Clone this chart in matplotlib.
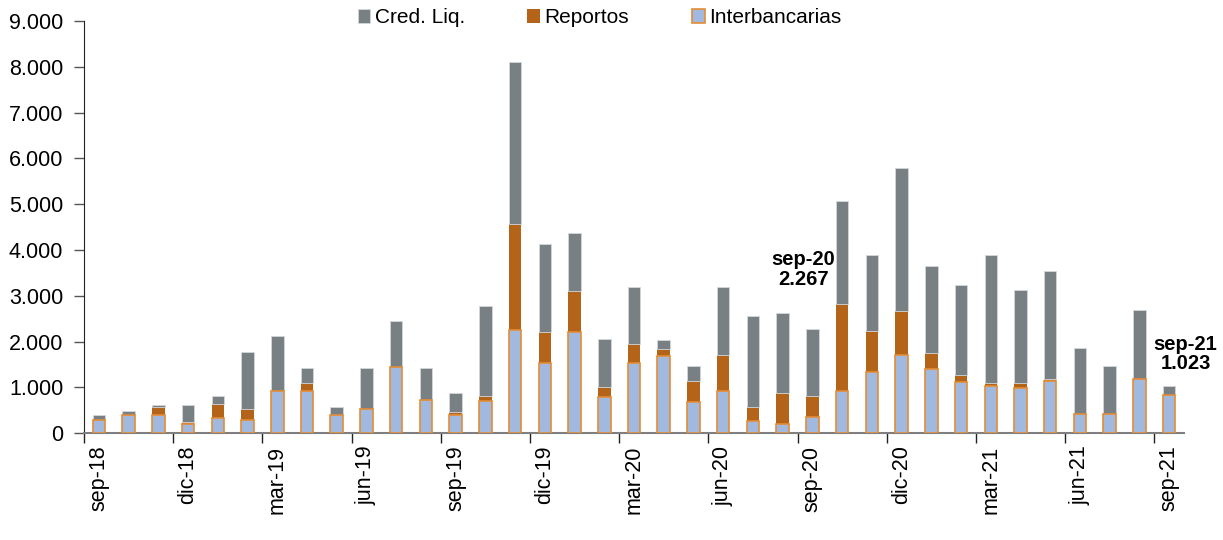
import numpy as np
import matplotlib
matplotlib.use("Agg")
import matplotlib.pyplot as plt
from matplotlib.ticker import FuncFormatter, FixedLocator

plt.rcParams['font.family'] = ['Liberation Sans', 'DejaVu Sans']

# months sep-18 .. sep-21
meses = ['sep', 'oct', 'nov', 'dic', 'ene', 'feb', 'mar', 'abr', 'may', 'jun', 'jul', 'ago']
fechas = []
anio = 18
for i in range(37):
    m = meses[i % 12]
    if m == 'ene' and i > 0:
        anio += 1
    fechas.append(f"{m}-{anio}")

interbancarias = [280, 385, 385, 200, 320, 280, 930, 915, 400, 525, 1450, 730, 395, 705,
                  2255, 1535, 2200, 785, 1535, 1690, 670, 915, 260, 195, 360, 925, 1330,
                  1710, 1410, 1120, 1020, 995, 1140, 415, 415, 1180, 830]
reportos = [0, 0, 195, 50, 320, 250, 0, 185, 0, 0, 0, 0, 65, 110, 2310, 675, 910, 225,
            410, 145, 460, 785, 320, 685, 460, 1900, 895, 960, 335, 140, 65, 90, 45,
            0, 0, 0, 0]
cred_liq = [120, 105, 40, 370, 175, 1240, 1200, 320, 175, 905, 995, 700, 420, 1965, 3535,
            1930, 1250, 1040, 1255, 195, 325, 1480, 1980, 1740, 1447, 2240, 1655, 3130,
            1895, 1965, 2795, 2030, 2345, 1440, 1040, 1510, 193]

c_gris = '#788084'
c_naranja = '#B36418'
c_azul = '#A1B9DF'
c_borde = '#E58C35'

x = np.arange(len(fechas))
inter = np.array(interbancarias)
rep = np.array(reportos)
cred = np.array(cred_liq)

fig = plt.figure(figsize=(12.23, 5.4), dpi=100)
ax = fig.add_axes([0.0687, 0.198, 0.8994, 0.763])

w = 0.42
b1 = ax.bar(x, inter, w, color=c_azul, edgecolor=c_borde, linewidth=1.2,
            label='Interbancarias', zorder=3)
b2 = ax.bar(x, rep, w, bottom=inter, color=c_naranja, linewidth=0,
            label='Reportos', zorder=2)
b3 = ax.bar(x, cred, w, bottom=inter + rep, color=c_gris, edgecolor='#d4d8da',
            linewidth=0.6, label='Cred. Liq.', zorder=2)

ax.set_xlim(-0.5, len(fechas) - 0.5)
ax.set_ylim(0, 9000)
ax.set_yticks(np.arange(0, 9001, 1000))
ax.yaxis.set_major_formatter(FuncFormatter(lambda v, p: f"{int(v):,}".replace(',', '.')))

ax.xaxis.set_major_locator(FixedLocator(x[::3]))
ax.set_xticklabels([fechas[i] for i in x[::3]], rotation=90, va='top', ha='center')
ax.xaxis.set_minor_locator(FixedLocator(x[::3] - 0.5))
ax.tick_params(axis='x', which='major', length=0, pad=9, labelsize=15.5, colors='#000000')
ax.tick_params(axis='x', which='minor', length=7, width=1, color='#222222')
ax.tick_params(axis='y', length=7, width=1, color='#555555', labelsize=15.5, pad=8)

for s in ['top', 'right']:
    ax.spines[s].set_visible(False)
ax.spines['left'].set_color('#222222')
ax.spines['bottom'].set_color('#7f7f7f')
ax.spines['bottom'].set_linewidth(1.5)

total = inter + rep + cred
i20 = fechas.index('sep-20')
i21 = fechas.index('sep-21')
fuente = ['Liberation Sans Narrow', 'Liberation Sans']
ax.text(i20 - 0.3, 3570, f"{fechas[i20]}\n{total[i20]:,}".replace(',', '.'),
        ha='center', va='center', fontsize=14.5, fontweight='bold', linespacing=1.05,
        family=fuente)
ax.text(i21 + 0.55, 1730, f"{fechas[i21]}\n{total[i21]:,}".replace(',', '.'),
        ha='center', va='center', fontsize=14.5, fontweight='bold', linespacing=1.05,
        family=fuente, clip_on=False)

fig.legend(handles=[b3, b2, b1], labels=['Cred. Liq.', 'Reportos', 'Interbancarias'],
           loc='center', bbox_to_anchor=(0.49, 0.967), ncol=3, frameon=False,
           fontsize=15, handlelength=0.62, handleheight=0.62, handletextpad=0.2,
           columnspacing=3.0)

fig.savefig('out.png', dpi=100)
